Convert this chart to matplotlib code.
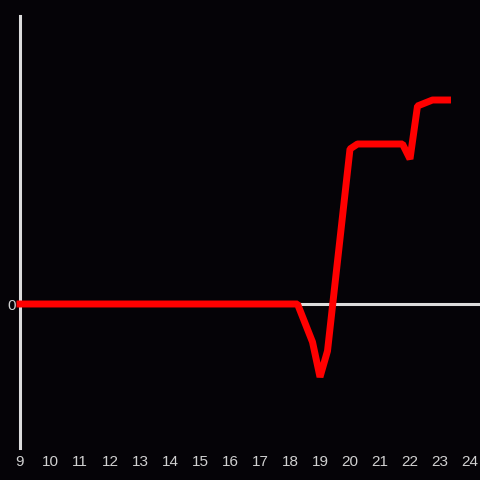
import matplotlib.pyplot as plt

# hour of day (quarter-hour steps) and value
hours = [9.0, 18.25, 18.75, 19.0, 19.25, 20.0, 20.25, 21.75, 22.0, 22.25, 22.75, 23.25]
values = [0.0, 0.0, -0.38, -0.73, -0.47, 1.55, 1.60, 1.60, 1.45, 1.98, 2.04, 2.04]
x_ticks = list(range(9, 25))

bg = "#050307"
axis_col = "#dcdcdc"
text_col = "#d0d0d0"

fig = plt.figure(figsize=(4.8, 4.8), dpi=100, facecolor=bg)
ax = fig.add_axes([20 / 480, 32 / 480, 460 / 480, 432 / 480])
ax.set_facecolor(bg)

ax.set_xlim(9, 9 + 460 / 30)
ax.set_ylim(-1.44, 2.88)

ax.axhline(0, color=axis_col, lw=2.2, zorder=2)
ax.plot(hours, values, color="#ff0000", lw=5, solid_capstyle="projecting",
        solid_joinstyle="bevel", zorder=4, clip_on=False)

for s in ["top", "right", "bottom"]:
    ax.spines[s].set_visible(False)
ax.spines["left"].set_color(axis_col)
ax.spines["left"].set_linewidth(2.2)
ax.spines["left"].set_zorder(3)

ax.set_xticks(x_ticks)
ax.set_xticklabels([str(t) for t in x_ticks])
ax.set_yticks([0])
ax.set_yticklabels(["0"])
ax.tick_params(axis="both", length=0, colors=text_col, labelsize=11,
               labelfontfamily="Liberation Sans")
ax.tick_params(axis="x", pad=5)
ax.tick_params(axis="y", pad=3)

fig.savefig("out.png", dpi=100, facecolor=bg)
